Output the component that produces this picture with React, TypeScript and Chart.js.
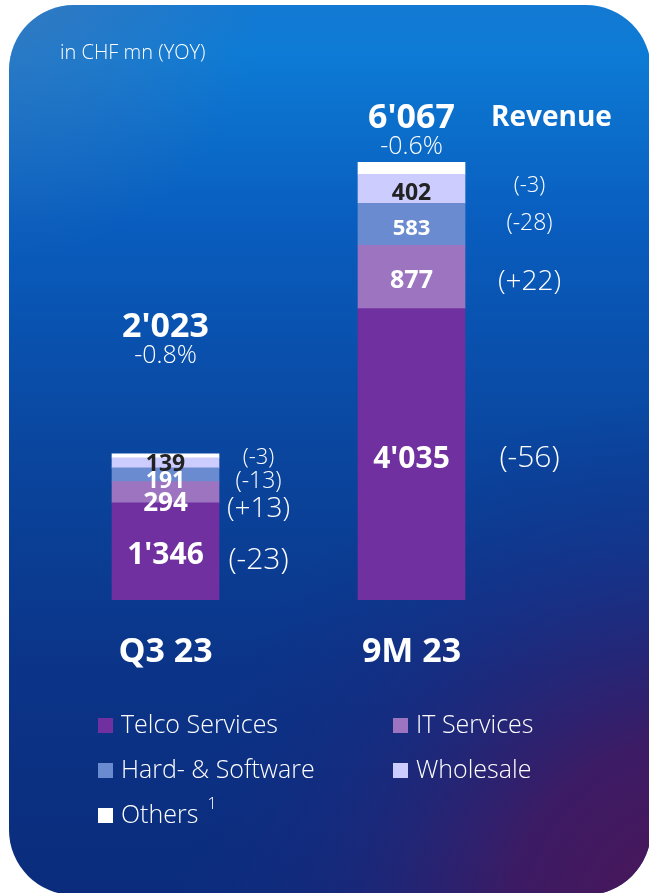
import React, { useEffect, useRef } from "react";
import { Chart, registerables } from "chart.js";

Chart.register(...registerables);

// ---------- data ----------
const categories = ["Q3 23", "9M 23"];
const seriesNames = ["Telco Services", "IT Services", "Hard- & Software", "Wholesale", "Others"];
const telco = [1346, 4035];
const itServices = [294, 877];
const hardSoftware = [191, 583];
const wholesale = [139, 402];
const others = [53, 170];
const totals = [2023, 6067];
const totalChange = ["-0.8%", "-0.6%"];
const yoyTelco = ["(-23)", "(-56)"];
const yoyIt = ["(+13)", "(+22)"];
const yoyHard = ["(-13)", "(-28)"];
const yoyWholesale = ["(-3)", "(-3)"];
const unitNote = "in CHF mn (YOY)";
const headline = "Revenue";
const footnoteMark = "1";

// ---------- styles ----------
const FONT = '"Open Sans", "Noto Sans", sans-serif';
const colors = ["#7030a0", "#9d74bf", "#6a8bd0", "#ccccff", "#ffffff"];
const segLabelColors = ["#ffffff", "#ffffff", "#ffffff", "#222222"];
// [series][category]
const segLabelSize = [[30, 30], [26, 25], [23, 22], [23, 23]];
const segLabelDy = [[4, 5], [11, 4], [7, 4], [2, 5]];
const yoySize = [[30, 30], [28, 28], [23, 23], [22, 22]];
const yoyDy = [[9, 4], [17, 5], [7, -1], [-5, -3]];
const yoyDx = [93, 118];
const totalDy = [-127, -44];
const changeDy = [-98, -15];

const fmt = (n: number) => String(n).replace(/\B(?=(\d{3})+(?!\d))/g, "'");

const bgPlugin = {
  id: "bg",
  beforeDraw(chart: any) {
    const ctx = chart.ctx;
    const W = chart.width, H = chart.height;
    ctx.save();
    ctx.fillStyle = "#ffffff";
    ctx.fillRect(0, 0, W, H);
    ctx.beginPath();
    (ctx as any).roundRect(9, 5, 642, 890, 65);
    ctx.clip();
    const lg = ctx.createLinearGradient(0, 0, 0, H);
    lg.addColorStop(0, "#1479d2");
    lg.addColorStop(0.06, "#0d7bd5");
    lg.addColorStop(0.25, "#095dbe");
    lg.addColorStop(0.5, "#0a469f");
    lg.addColorStop(0.75, "#0b3488");
    lg.addColorStop(1, "#0b2c7c");
    ctx.fillStyle = lg;
    ctx.fillRect(0, 0, W, H);
    const tl = ctx.createRadialGradient(0, 0, 0, 0, 0, 260);
    tl.addColorStop(0, "rgba(90,120,170,0.45)");
    tl.addColorStop(1, "rgba(90,120,170,0)");
    ctx.fillStyle = tl;
    ctx.fillRect(0, 0, W, H);
    const rg = ctx.createRadialGradient(690, 920, 0, 690, 920, 520);
    rg.addColorStop(0, "rgba(78,20,85,1)");
    rg.addColorStop(0.35, "rgba(68,24,96,0.85)");
    rg.addColorStop(0.7, "rgba(40,35,120,0.35)");
    rg.addColorStop(1, "rgba(20,40,130,0)");
    ctx.fillStyle = rg;
    ctx.fillRect(0, 0, W, H);
    ctx.restore();
  },
};

const yoyAll = [yoyTelco, yoyIt, yoyHard, yoyWholesale];

const labelPlugin = {
  id: "labels",
  afterDatasetsDraw(chart: any) {
    const ctx = chart.ctx;
    const xs = chart.scales.x;
    const ys = chart.scales.y;
    ctx.save();
    ctx.textBaseline = "middle";
    ctx.textAlign = "center";
    ctx.fillStyle = "#ffffff";

    // title
    ctx.textAlign = "left";
    ctx.font = `300 20px ${FONT}`;
    ctx.fillText(unitNote, 60, 53);

    categories.forEach((cat, ci) => {
      const cx = xs.getPixelForValue(ci);
      for (let di = 0; di < 4; di++) {
        const el = chart.getDatasetMeta(di).data[ci];
        const p = el.getProps(["x", "y", "base"], true);
        const mid = (p.y + p.base) / 2;
        const v = chart.data.datasets[di].data[ci];
        ctx.textAlign = "center";
        ctx.fillStyle = segLabelColors[di];
        ctx.font = `bold ${segLabelSize[di][ci]}px ${FONT}`;
        ctx.fillText(fmt(v), p.x, mid + segLabelDy[di][ci]);
        ctx.fillStyle = "#ffffff";
        ctx.font = `300 ${yoySize[di][ci]}px ${FONT}`;
        ctx.fillText(yoyAll[di][ci], p.x + yoyDx[ci], mid + yoyDy[di][ci]);
      }
      const top = ys.getPixelForValue(totals[ci]);
      ctx.textAlign = "center";
      ctx.fillStyle = "#ffffff";
      ctx.font = `bold 34px ${FONT}`;
      ctx.fillText(fmt(totals[ci]), cx, top + totalDy[ci]);
      ctx.font = `300 25px ${FONT}`;
      ctx.fillText(totalChange[ci], cx, top + changeDy[ci]);
      ctx.font = `bold 34px ${FONT}`;
      ctx.fillText(cat, cx, ys.getPixelForValue(0) + 52);
      if (ci === 1) {
        ctx.textAlign = "left";
        ctx.font = `bold 28px ${FONT}`;
        ctx.fillText(headline, 491, top + totalDy[ci]);
      }
    });

    // legend
    const legendPos = [
      [98, 726],
      [393, 726],
      [98, 771],
      [393, 771],
      [98, 816],
    ];
    seriesNames.forEach((name, i) => {
      const [lx, ly] = legendPos[i];
      ctx.fillStyle = colors[i];
      ctx.fillRect(lx, ly - 8, 15, 15);
      ctx.fillStyle = "#ffffff";
      ctx.textAlign = "left";
      ctx.font = `300 25px ${FONT}`;
      ctx.fillText(name, lx + 23, ly);
      if (i === 4) {
        const w = ctx.measureText(name).width;
        ctx.font = `300 17px ${FONT}`;
        ctx.fillText(footnoteMark, lx + 23 + w + 9, ly - 12);
      }
    });
    ctx.restore();
  },
};

export default function App() {
  const ref = useRef<HTMLCanvasElement | null>(null);
  useEffect(() => {
    if (!ref.current) return;
    const series = [telco, itServices, hardSoftware, wholesale, others];
    const chart = new Chart(ref.current, {
      type: "bar",
      data: {
        labels: categories,
        datasets: series.map((d, i) => ({
          label: seriesNames[i],
          data: d,
          backgroundColor: colors[i],
          borderWidth: 0,
          barThickness: 107,
          stack: "s",
        })),
      },
      options: {
        responsive: false,
        animation: false,
        layout: { padding: { top: 162, bottom: 293, left: 42.5, right: 114.5 } },
        scales: {
          x: { display: false, stacked: true },
          y: { display: false, stacked: true, min: 0, max: 6067 },
        },
        plugins: { legend: { display: false }, tooltip: { enabled: false } },
      },
      plugins: [bgPlugin, labelPlugin],
    });
    return () => chart.destroy();
  }, []);
  return (
    <div style={{ position: "absolute", left: 0, top: 0, width: 649, height: 893 }}>
      <canvas ref={ref} width={649} height={893} style={{ display: "block" }} />
    </div>
  );
}
